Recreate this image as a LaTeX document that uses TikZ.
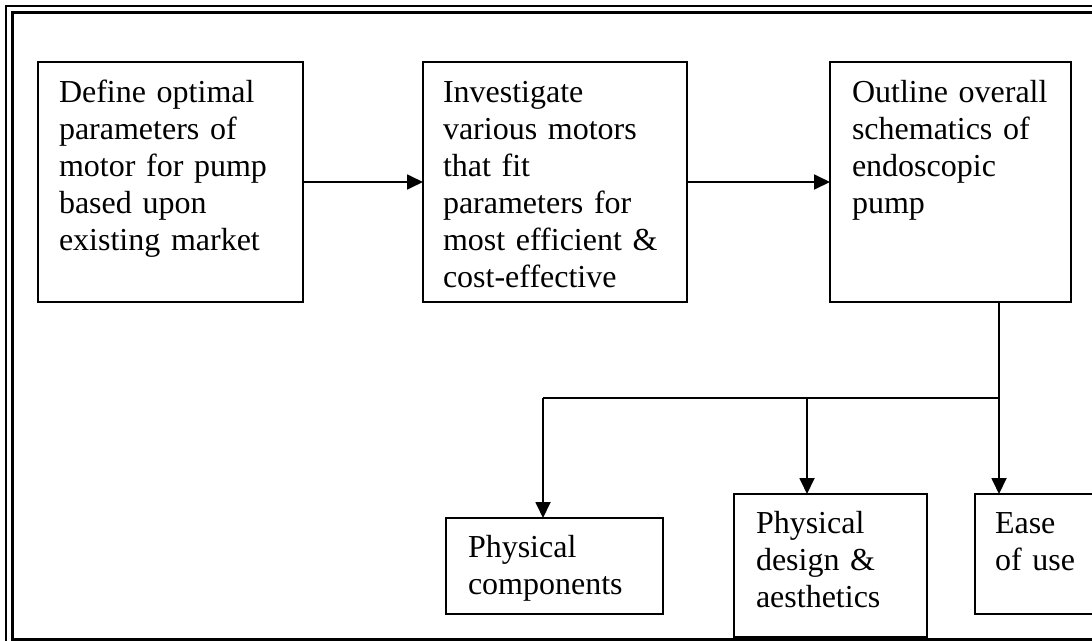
\documentclass[tikz,border=0pt]{standalone}
\usepackage{fontspec}
\setmainfont{Liberation Serif}
\usetikzlibrary{arrows.meta}
\begin{document}
\begin{tikzpicture}[x=1pt,y=-1pt,
  box/.style={draw=black,line width=2pt,inner sep=0pt,outer sep=0pt,anchor=north west,rectangle},
  txt/.style={inner sep=0pt,outer sep=0pt,anchor=base west,align=left,text width=260pt,
    font=\fontsize{32}{37}\selectfont},
  conn/.style={draw=black,line width=1.8pt},
  arr/.style={conn,-{Triangle[length=16pt,width=15pt]}}]
\useasboundingbox (0,0) rectangle (1092,640);
\clip (0,0) rectangle (1092,640);
% outer double frame
\draw[line width=2pt] (6,6) rectangle (1120,680);
\draw[line width=3pt] (12.5,12.5) rectangle (1110,639);
% boxes
\node[box,minimum width=265pt,minimum height=240pt] (b1) at (38,62) {};
\node[box,minimum width=264pt,minimum height=240pt] (b2) at (423,62) {};
\node[box,minimum width=241pt,minimum height=240pt] (b3) at (830,62) {};
\node[box,minimum width=217pt,minimum height=96pt] (pc) at (446,518) {};
\node[box,minimum width=193pt,minimum height=143pt] (pd) at (734,494) {};
\node[box,minimum width=140pt,minimum height=120pt] (ease) at (975,494) {};
% texts
\node[txt] (t1) at (59,102) {Define optimal\\parameters of\\motor for pump\\based upon\\existing market};
\node[txt] (t2) at (443,102) {Investigate\\various motors\\that fit\\parameters for\\most efficient \&\\cost-effective};
\node[txt] (t3) at (852,102) {Outline overall\\schematics of\\endoscopic\\pump};
\node[txt] (t4) at (468,557) {Physical\\components};
\node[txt] (t5) at (756,533) {Physical\\design \&\\aesthetics};
\node[txt] (t6) at (995,533) {Ease\\of use};
% connectors
\draw[arr] (b1.east) -- (b2.west);
\draw[arr] (b2.east) -- (b3.west);
\coordinate (j) at (999,398);
\coordinate (jl) at (543,398);
\coordinate (jm) at (807,398);
\draw[conn] (b3.south -| j) -- (j) -- (jl);
\draw[arr] (j) -- (j |- ease.north);
\draw[arr] (jl) -- (jl |- pc.north);
\draw[arr] (jm) -- (jm |- pd.north);
\end{tikzpicture}
\end{document}
